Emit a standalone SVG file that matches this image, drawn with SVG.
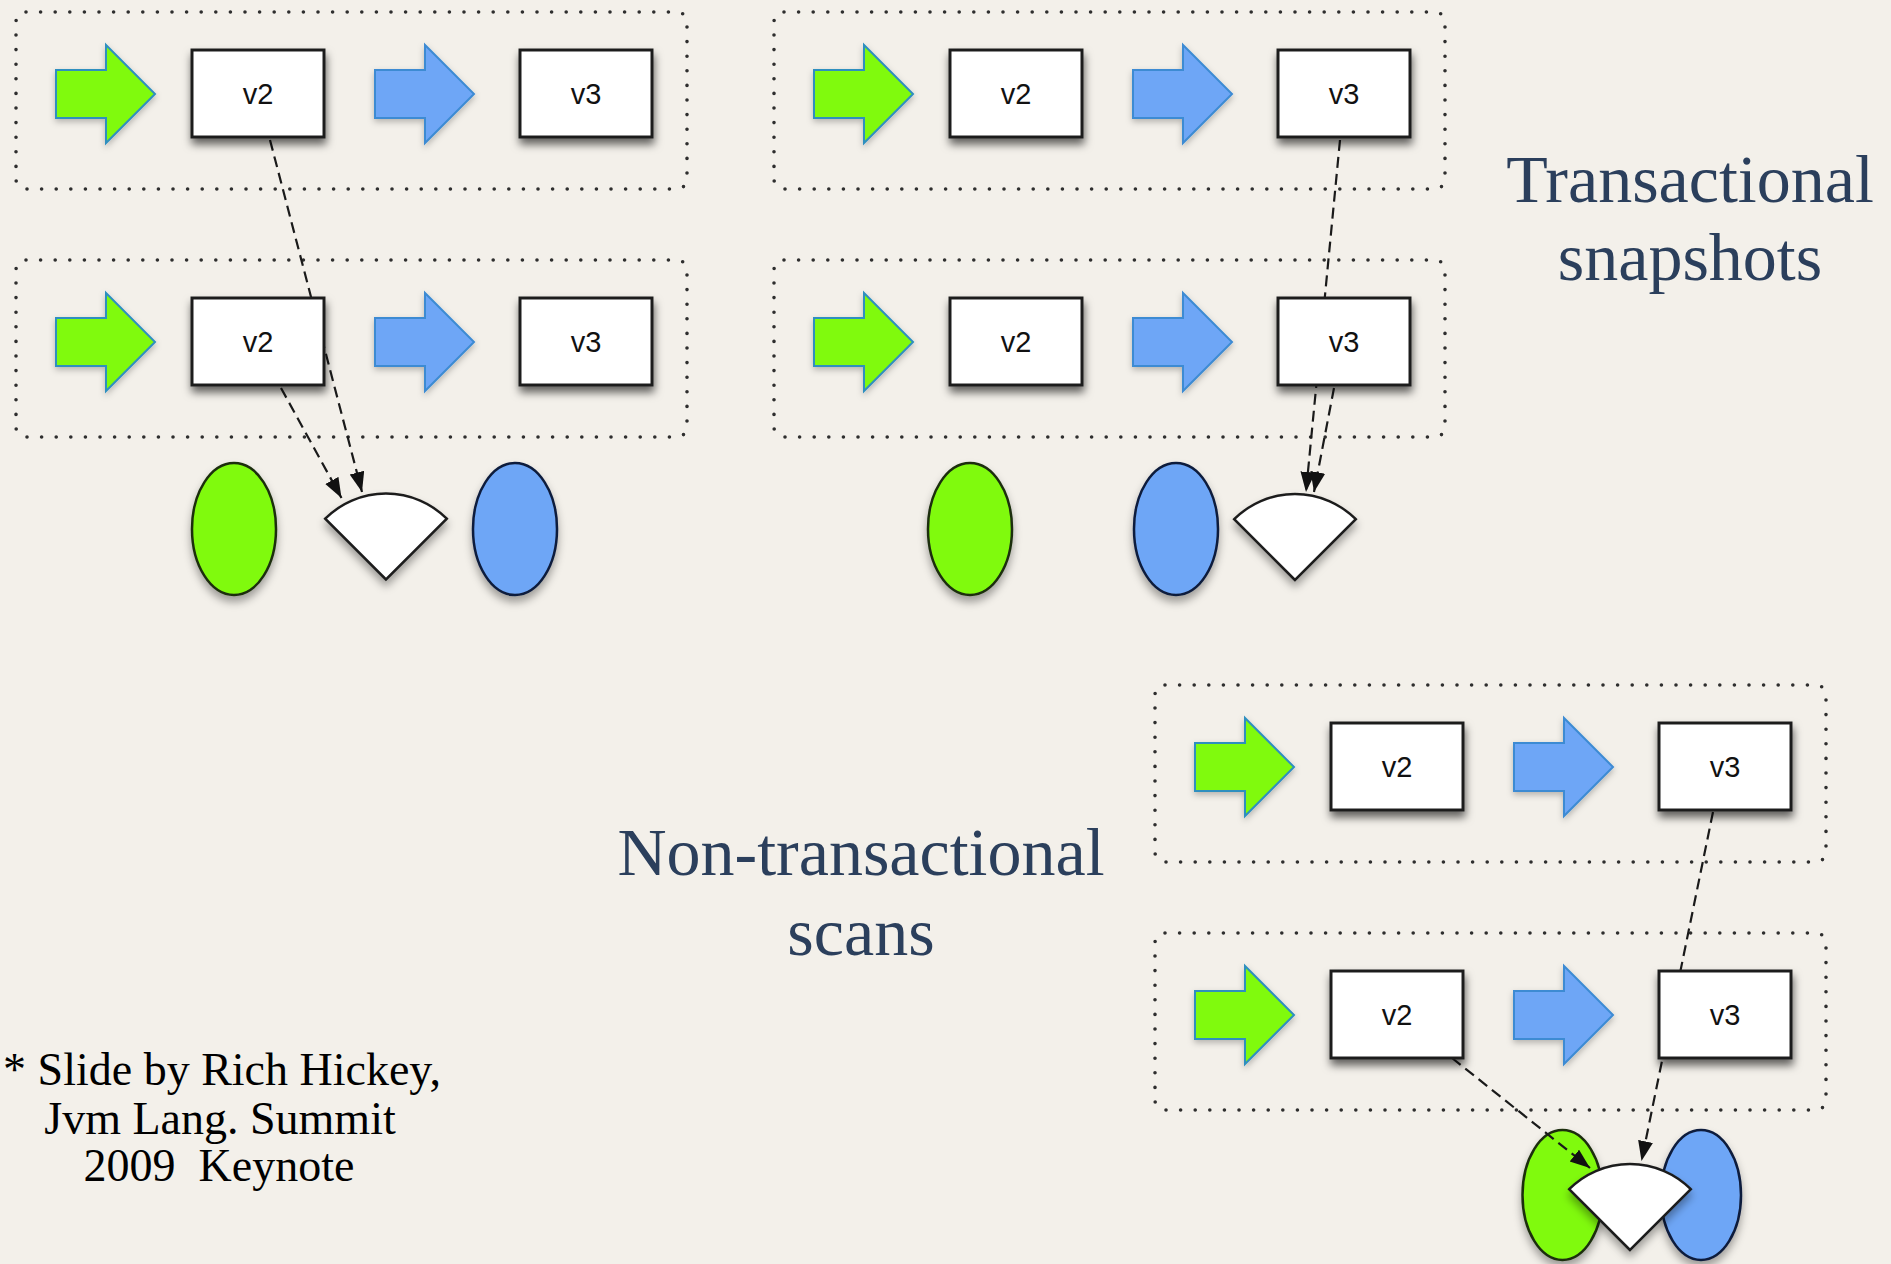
<svg xmlns="http://www.w3.org/2000/svg" xmlns:xlink="http://www.w3.org/1999/xlink" width="1891" height="1264" viewBox="0 0 1891 1264">
<style>
.bg{fill:#f3f0ea}
.grp{fill:none;stroke:#2e2e2e;stroke-width:3.6;stroke-linecap:round;stroke-dasharray:0 14.6}
.box{fill:#ffffff;stroke:#1e1e1e;stroke-width:3;filter:url(#sh)}
.lbl{font-family:"Liberation Sans",Arial,sans-serif;font-size:29px;fill:#111;text-anchor:middle}
.ga{fill:#80fa0a;stroke:#2f8fbf;stroke-width:2;filter:url(#glow)}
.ba{fill:#6ea6f6;stroke:#3d8bd3;stroke-width:2;filter:url(#glow)}
.ge{fill:#80fa0a;stroke:#1c2e10;stroke-width:2.5;filter:url(#sh2)}
.be{fill:#6ea6f6;stroke:#0e1c3c;stroke-width:2.5;filter:url(#sh2)}
.fan{fill:#ffffff;stroke:#1e1e1e;stroke-width:2.5;filter:url(#sh2)}
.con{fill:none;stroke:#1a1a1a;stroke-width:2.2;stroke-dasharray:11 6;marker-end:url(#ah)}
.head{font-family:"Liberation Serif","Times New Roman",serif;font-size:68px;fill:#2b3f5c;text-anchor:middle}
.note{font-family:"Liberation Serif","Times New Roman",serif;font-size:46px;fill:#000;text-anchor:middle}
</style>
<defs>
<filter id="sh" x="-20%" y="-20%" width="140%" height="150%">
<feDropShadow dx="1" dy="6" stdDeviation="4" flood-color="#000" flood-opacity="0.6"/>
</filter>
<filter id="sh2" x="-30%" y="-20%" width="160%" height="150%">
<feDropShadow dx="0" dy="6" stdDeviation="4" flood-color="#000" flood-opacity="0.35"/>
</filter>
<filter id="glow" x="-20%" y="-20%" width="140%" height="150%">
<feDropShadow dx="0" dy="3" stdDeviation="3" flood-color="#000" flood-opacity="0.25"/>
</filter>
<marker id="ah" markerUnits="userSpaceOnUse" markerWidth="22" markerHeight="16" refX="20" refY="7.5" orient="auto">
<path d="M0,0 L20,7.5 L0,15 Z" fill="#111"/>
</marker>
<path id="arrowShape" d="M0,-24 H50 V-49 L99,0 L50,49 V24 H0 Z"/>
<path id="fanShape" d="M0,0 L-60.8,-60.8 A86,86 0 0 1 60.8,-60.8 Z"/>
</defs>
<rect class="bg" x="0" y="0" width="1891" height="1264"/>

<!-- group containers -->
<g id="containers">
<rect class="grp" x="16" y="12" width="671" height="177" rx="10"/>
<rect class="grp" x="16" y="260" width="671" height="177" rx="10"/>
<rect class="grp" x="774" y="12" width="671" height="177" rx="10"/>
<rect class="grp" x="774" y="260" width="671" height="177" rx="10"/>
<rect class="grp" x="1155" y="685" width="671" height="177" rx="10"/>
<rect class="grp" x="1155" y="933" width="671" height="177" rx="10"/>
</g>

<!-- readers -->
<g id="readerA">
<ellipse id="A-green" class="ge" cx="234" cy="529" rx="42" ry="66"/>
<ellipse id="A-blue" class="be" cx="515" cy="529" rx="42" ry="66"/>
<use id="A-fan" class="fan" href="#fanShape" x="386" y="579.5"/>
</g>
<g id="readerB">
<ellipse id="B-green" class="ge" cx="970" cy="529" rx="42" ry="66"/>
<ellipse id="B-blue" class="be" cx="1176" cy="529" rx="42" ry="66"/>
<use id="B-fan" class="fan" href="#fanShape" x="1295" y="580"/>
</g>
<g id="readerC">
<ellipse id="C-green" class="ge" cx="1562.5" cy="1195" rx="40" ry="65"/>
<ellipse id="C-blue" class="be" cx="1701" cy="1195" rx="40" ry="65"/>
<use id="C-fan" class="fan" href="#fanShape" x="1630" y="1250"/>
</g>

<!-- connectors -->
<g id="connectors">
<line class="con" x1="270" y1="140" x2="362" y2="492"/>
<line class="con" x1="281" y1="388" x2="341.5" y2="498"/>
<line class="con" x1="1340" y1="140" x2="1306" y2="492"/>
<line class="con" x1="1334" y1="388" x2="1314" y2="492"/>
<line class="con" x1="1713" y1="812" x2="1641.5" y2="1161"/>
<line class="con" x1="1452" y1="1058" x2="1590" y2="1168"/>
</g>

<!-- panel A -->
<g id="A1-in"><use class="ga" href="#arrowShape" x="56" y="94"/></g>
<g id="A1-v2"><rect class="box" x="192" y="50" width="132" height="87"/><text class="lbl" x="258" y="104">v2</text></g>
<g id="A1-step"><use class="ba" href="#arrowShape" x="375" y="94"/></g>
<g id="A1-v3"><rect class="box" x="520" y="50" width="132" height="87"/><text class="lbl" x="586" y="104">v3</text></g>
<g id="A2-in"><use class="ga" href="#arrowShape" x="56" y="342"/></g>
<g id="A2-v2"><rect class="box" x="192" y="298" width="132" height="87"/><text class="lbl" x="258" y="352">v2</text></g>
<g id="A2-step"><use class="ba" href="#arrowShape" x="375" y="342"/></g>
<g id="A2-v3"><rect class="box" x="520" y="298" width="132" height="87"/><text class="lbl" x="586" y="352">v3</text></g>

<!-- panel B -->
<g id="B1-in"><use class="ga" href="#arrowShape" x="814" y="94"/></g>
<g id="B1-v2"><rect class="box" x="950" y="50" width="132" height="87"/><text class="lbl" x="1016" y="104">v2</text></g>
<g id="B1-step"><use class="ba" href="#arrowShape" x="1133" y="94"/></g>
<g id="B1-v3"><rect class="box" x="1278" y="50" width="132" height="87"/><text class="lbl" x="1344" y="104">v3</text></g>
<g id="B2-in"><use class="ga" href="#arrowShape" x="814" y="342"/></g>
<g id="B2-v2"><rect class="box" x="950" y="298" width="132" height="87"/><text class="lbl" x="1016" y="352">v2</text></g>
<g id="B2-step"><use class="ba" href="#arrowShape" x="1133" y="342"/></g>
<g id="B2-v3"><rect class="box" x="1278" y="298" width="132" height="87"/><text class="lbl" x="1344" y="352">v3</text></g>

<!-- panel C -->
<g id="C1-in"><use class="ga" href="#arrowShape" x="1195" y="767"/></g>
<g id="C1-v2"><rect class="box" x="1331" y="723" width="132" height="87"/><text class="lbl" x="1397" y="777">v2</text></g>
<g id="C1-step"><use class="ba" href="#arrowShape" x="1514" y="767"/></g>
<g id="C1-v3"><rect class="box" x="1659" y="723" width="132" height="87"/><text class="lbl" x="1725" y="777">v3</text></g>
<g id="C2-in"><use class="ga" href="#arrowShape" x="1195" y="1015"/></g>
<g id="C2-v2"><rect class="box" x="1331" y="971" width="132" height="87"/><text class="lbl" x="1397" y="1025">v2</text></g>
<g id="C2-step"><use class="ba" href="#arrowShape" x="1514" y="1015"/></g>
<g id="C2-v3"><rect class="box" x="1659" y="971" width="132" height="87"/><text class="lbl" x="1725" y="1025">v3</text></g>

<!-- titles -->
<g id="title-transactional">
<text class="head" x="1690" y="202">Transactional</text>
<text class="head" x="1690" y="280">snapshots</text>
</g>
<g id="title-nontransactional">
<text class="head" x="861" y="875">Non-transactional</text>
<text class="head" x="861" y="955">scans</text>
</g>
<g id="footnote">
<text class="note" x="222" y="1085">* Slide by Rich Hickey,</text>
<text class="note" x="220" y="1134">Jvm Lang. Summit</text>
<text class="note" x="219" y="1181" xml:space="preserve">2009  Keynote</text>
</g>
</svg>
